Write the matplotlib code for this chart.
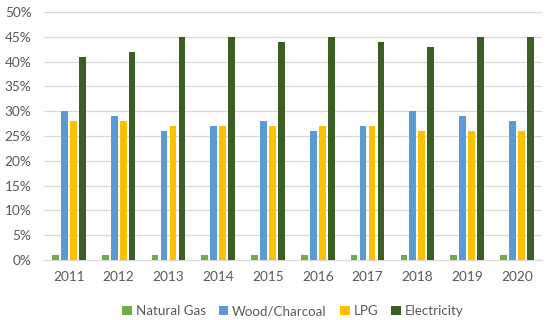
import matplotlib
matplotlib.use("Agg")
import matplotlib.pyplot as plt
import numpy as np
from matplotlib.ticker import FuncFormatter, MultipleLocator

years = ["2011", "2012", "2013", "2014", "2015", "2016", "2017", "2018", "2019", "2020"]
natural_gas = [1, 1, 1, 1, 1, 1, 1, 1, 1, 1]
wood_charcoal = [30, 29, 26, 27, 28, 26, 27, 30, 29, 28]
lpg = [28, 28, 27, 27, 27, 27, 27, 26, 26, 26]
electricity = [41, 42, 45, 45, 44, 45, 44, 43, 45, 45]

series = [
    ("Natural Gas", natural_gas, "#70AD47"),
    ("Wood/Charcoal", wood_charcoal, "#5B9BD5"),
    ("LPG", lpg, "#FFC000"),
    ("Electricity", electricity, "#3B5E23"),
]

plt.rcParams["font.family"] = ["Lato", "DejaVu Sans"]

fig = plt.figure(figsize=(5.5, 3.2), dpi=100)
ax = fig.add_axes([0.08, 0.1875, 0.905, 0.775])

x = np.arange(len(years))
step = 0.18
width = 0.135
for i, (label, vals, color) in enumerate(series):
    ax.bar(x + (i - 1.5) * step, vals, width=width, color=color, label=label, zorder=3)

ax.set_ylim(0, 50)
ax.set_xlim(-0.5, len(years) - 0.5)
ax.yaxis.set_major_locator(MultipleLocator(5))
ax.yaxis.set_major_formatter(FuncFormatter(lambda v, _: f"{int(v)}%"))
ax.set_xticks(x)
ax.set_xticklabels(years)
ax.grid(axis="y", color="#D9D9D9", linewidth=0.9, zorder=0)
for side in ("top", "right", "left"):
    ax.spines[side].set_visible(False)
ax.spines["bottom"].set_color("#D9D9D9")
ax.tick_params(axis="both", length=0, colors="#595959", labelsize=9.8)
ax.tick_params(axis="x", pad=8)
ax.tick_params(axis="y", pad=9)

ax.legend(loc="upper center", bbox_to_anchor=(0.5, -0.135), ncol=4, frameon=False,
          fontsize=9.6, labelcolor="#595959", handlelength=0.7, handleheight=0.7,
          handletextpad=0.3, columnspacing=1.0)

fig.savefig("out.png", dpi=100)
